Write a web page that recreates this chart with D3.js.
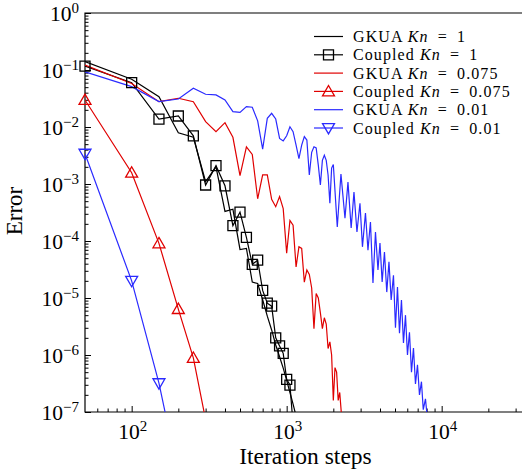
<!DOCTYPE html>
<html><head><meta charset="utf-8">
<script src="https://cdn.jsdelivr.net/npm/d3@7"></script>
<style>
body{margin:0;background:#fff}
svg{display:block}
text{font-family:"Liberation Serif","Times New Roman",serif;fill:#000}
</style>
</head><body>
<svg id="chart" width="522" height="472"></svg>
<script>
// ---------- data ----------
const xMajorTicks = [100, 1000, 10000];
const xTickExp = ["2", "3", "4"];
const yMajorTicks = [1, 1e-1, 1e-2, 1e-3, 1e-4, 1e-5, 1e-6, 1e-7];
const yTickExp = ["0", "\u22121", "\u22122", "\u22123", "\u22124", "\u22125", "\u22126", "\u22127"];

const gkuaKn1 = [[50,0.14],[100,0.069],[150,0.034],[200,0.0079],[250,0.0066],[300,1.1e-3],[350,2.0e-3],[400,3.3e-4],[450,3.6e-4],[500,7.1e-5],[550,7.4e-5],[600,1.9e-5],[650,1.8e-5],[700,9.3e-6],[750,4.8e-6],[800,2.75e-6],[850,1.5e-6],[900,9.3e-7],[950,5.9e-7],[1000,3.6e-7],[1050,2.2e-7],[1100,1.37e-7],[1150,8.5e-8]];

const coupledKn1 = [[50,0.117],[100,0.060],[150,0.0138],[200,0.0156],[250,0.0070],[300,9.6e-4],[350,2.1e-3],[400,9.3e-4],[450,1.86e-4],[500,3.2e-4],[550,1.16e-4],[600,3.9e-5],[650,4.6e-5],[700,1.36e-5],[750,8.1e-6],[800,7.2e-6],[850,2.0e-6],[900,1.44e-6],[950,1.07e-6],[1000,3.75e-7],[1050,2.97e-7],[1100,6e-8]];

const gkuaKn0075 = [[50,0.122],[100,0.058],[150,0.0278],[200,0.0319],[250,0.0278],[300,0.0124],[350,0.0083],[400,0.0119],[450,0.0066],[500,1.4e-3],[550,4.5e-3],[600,3.3e-3],[650,5.5e-4],[700,1.45e-3],[750,1.45e-3],[800,5.4e-4],[850,4.0e-4],[900,6.0e-4],[950,3.7e-4],[1000,6.1e-5],[1050,2.3e-4],[1100,1.9e-4],[1150,3.5e-5],[1200,7.9e-5],[1250,7.4e-5],[1300,1.9e-5],[1350,3.1e-5],[1400,2.6e-5],[1450,1.5e-5],[1500,2.9e-6],[1550,1.2e-5],[1600,1.0e-5],[1650,5.5e-6],[1700,2.9e-6],[1750,4.5e-6],[1800,3.5e-6],[1850,1.3e-6],[1900,1.7e-6],[1950,1.0e-6],[2000,1.6e-7],[2050,6.0e-7],[2100,5.0e-7],[2150,1.6e-7],[2200,2.2e-7],[2250,1.0e-7],[2300,5e-8]];

const coupledKn0075 = [[50,0.0298],[100,1.58e-3],[150,9.1e-5],[200,6.4e-6],[250,8.9e-7],[300,7.3e-8]];

const gkuaKn001 = [[50,0.093],[100,0.051],[150,0.028],[200,0.031],[250,0.048],[300,0.0375],[350,0.0365],[400,0.0298],[450,0.0186],[500,0.018],[550,0.0228],[600,0.0222],[650,0.0128],[700,4.1e-3],[750,0.0142],[800,0.0174],[850,0.0138],[900,6.3e-3],[950,5.7e-3],[1000,7.0e-3],[1050,0.0101],[1100,8.3e-3],[1150,4.8e-3],[1200,2.8e-3],[1250,4.8e-3],[1300,6.8e-3],[1350,5.9e-3],[1400,1.44e-3],[1450,3.6e-3],[1500,4.5e-3],[1550,4.3e-3],[1600,2.15e-3],[1650,9.6e-4],[1700,2.6e-3],[1750,3.2e-3],[1800,2.6e-3],[1850,1.44e-3],[1900,4.6e-4],[1950,1.9e-3],[2000,2.2e-3],[2121,1.76e-4],[2240,1.5e-3],[2378,2.5e-4],[2486,1.08e-3],[2607,1.69e-4],[2718,7.2e-4],[2841,1.44e-4],[2971,4.6e-4],[3083,7.9e-5],[3224,3.1e-4],[3346,6.9e-5],[3472,2.15e-4],[3604,1.83e-5],[3741,1.44e-4],[3882,3.1e-5],[3999,9.2e-5],[4131,1.91e-5],[4275,6.4e-5],[4424,1.27e-5],[4571,4.3e-5],[4723,9.2e-6],[4887,2.5e-5],[5035,3.0e-6],[5187,1.56e-5],[5344,2.4e-6],[5503,9.2e-6],[5670,1.62e-6],[5842,5.0e-6],[6017,1.0e-6],[6198,2.5e-6],[6387,5.0e-7],[6578,1.33e-6],[6776,3.1e-7],[6982,6.7e-7],[7192,2.0e-7],[7407,3.4e-7],[7608,1.1e-7],[7861,1.7e-7],[8158,6e-8]];

const coupledKn001 = [[50,3.4e-3],[100,2.0e-5],[150,3.2e-7],[200,8e-9]];

const legendLabels = [
  ["GKUA ", "1"], ["Coupled ", "1"], ["GKUA ", "0.075"],
  ["Coupled ", "0.075"], ["GKUA ", "0.01"], ["Coupled ", "0.01"]
];

// ---------- setup ----------
const svg = d3.select("#chart");
const L = 85, R = 526, T = 13, B = 412;
const x = d3.scaleLog().domain([50, 35000]).range([L, R]);
const y = d3.scaleLog().domain([1e-7, 1]).range([B, T]);

const RED = "#e00000", BLUE = "#2a2aff", BLACK = "#000";

svg.append("defs").append("clipPath").attr("id","clip")
  .append("rect").attr("x",L).attr("y",T).attr("width",R-L).attr("height",B-T);

// ---------- axes ----------
const xMinor = [];
for (let e = 1; e <= 4; e++) for (let m = 2; m <= 9; m++) { const v = m*Math.pow(10,e); if (v>50 && v<35000) xMinor.push(v); }
const yMinor = [];
for (let e = -7; e < 0; e++) for (let m = 2; m <= 9; m++) yMinor.push(m*Math.pow(10,e));

const xAxis = svg.append("g").attr("transform",`translate(0,${B})`)
  .call(d3.axisBottom(x).tickValues(xMajorTicks).tickSize(-6).tickFormat(""));
const xAxisMinor = svg.append("g").attr("transform",`translate(0,${B})`)
  .call(d3.axisBottom(x).tickValues(xMinor).tickSize(-3.5).tickFormat(""));
const yAxis = svg.append("g").attr("transform",`translate(${L},0)`)
  .call(d3.axisLeft(y).tickValues(yMajorTicks).tickSize(-6).tickFormat(""));
const yAxisMinor = svg.append("g").attr("transform",`translate(${L},0)`)
  .call(d3.axisLeft(y).tickValues(yMinor).tickSize(-3.5).tickFormat(""));
[xAxis,xAxisMinor,yAxis,yAxisMinor].forEach(g=>{
  g.select(".domain").remove();
  g.selectAll("line").attr("stroke","#000").attr("stroke-width",1);
});
// frame: left, bottom, top
svg.append("path").attr("d",`M${R},${T}H${L}V${B}H${R}`).attr("fill","none")
  .attr("stroke","#000").attr("stroke-width",1.2);

// tick labels
xMajorTicks.forEach((v,i)=>{
  const t = svg.append("text").attr("x",x(v)+1).attr("y",439).attr("text-anchor","middle").attr("font-size",21.5);
  t.append("tspan").text("10");
  t.append("tspan").attr("dy",-8.5).attr("font-size",15).text(xTickExp[i]);
});
yMajorTicks.forEach((v,i)=>{
  const t = svg.append("text").attr("x",79).attr("y",y(v)+8).attr("text-anchor","end").attr("font-size",21.5);
  t.append("tspan").text("10");
  t.append("tspan").attr("dy",-8.5).attr("font-size",15).text(yTickExp[i]);
});
svg.append("text").attr("x",305.5).attr("y",464).attr("text-anchor","middle").attr("font-size",23.5).text("Iteration steps");
svg.append("text").attr("transform","translate(22,211) rotate(-90)").attr("text-anchor","middle").attr("font-size",23).text("Error");

// ---------- series ----------
const line = d3.line().x(d=>x(d[0])).y(d=>y(d[1]));
const plot = svg.append("g").attr("clip-path","url(#clip)");
const sym = {
  square: d3.symbol().type(d3.symbolSquare).size(100),
  up: d3.symbol().type(d3.symbolTriangle).size(62),
  down: d3.symbol().type(d3.symbolTriangle).size(62)
};
function markerPath(kind){ return sym[kind](); }
function markerTransform(kind,px,py){
  if (kind==="up") return `translate(${px},${py+1})`;
  if (kind==="down") return `translate(${px},${py-1}) rotate(180)`;
  return `translate(${px},${py})`;
}
const series = [
  {data:gkuaKn1, color:BLACK, marker:null},
  {data:coupledKn1, color:BLACK, marker:"square"},
  {data:gkuaKn0075, color:RED, marker:null},
  {data:coupledKn0075, color:RED, marker:"up"},
  {data:gkuaKn001, color:BLUE, marker:null},
  {data:coupledKn001, color:BLUE, marker:"down"}
];
series.forEach(s=>{
  plot.append("path").datum(s.data).attr("d",line).attr("fill","none")
    .attr("stroke",s.color).attr("stroke-width",1.2).attr("stroke-linejoin","miter");
});
series.forEach(s=>{
  if (!s.marker) return;
  svg.append("g").selectAll("path").data(s.data.filter(d=>d[1]>=1e-7)).join("path")
    .attr("d",markerPath(s.marker))
    .attr("transform",d=>markerTransform(s.marker,x(d[0]),y(d[1])))
    .attr("fill","none").attr("stroke",s.color).attr("stroke-width",1.3);
});

// ---------- legend ----------
const lg = svg.append("g");
series.forEach((s,i)=>{
  const yy = 36.5 + i*18.3;
  lg.append("line").attr("x1",314).attr("x2",343).attr("y1",yy).attr("y2",yy)
    .attr("stroke",s.color).attr("stroke-width",1.2);
  if (s.marker) lg.append("path").attr("d",markerPath(s.marker))
    .attr("transform",markerTransform(s.marker,328.5,yy))
    .attr("fill","none").attr("stroke",s.color).attr("stroke-width",1.3);
  const t = lg.append("text").attr("x",353).attr("y",yy+5.5).attr("font-size",16)
    .attr("letter-spacing",1.1);
  t.append("tspan").text(legendLabels[i][0]);
  t.append("tspan").attr("font-style","italic").text("Kn");
  t.append("tspan").text("\u2002=\u2002" + legendLabels[i][1]);
});
</script>
</body></html>
